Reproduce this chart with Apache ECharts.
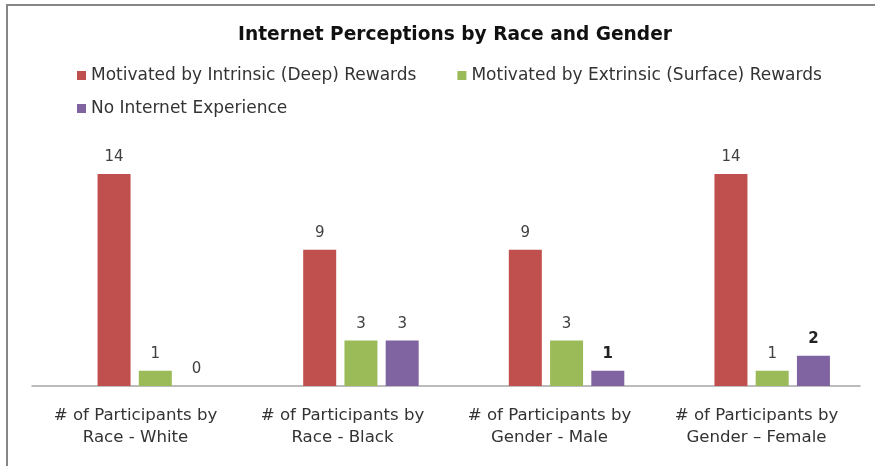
<!DOCTYPE html>
<html>
<head>
<meta charset="utf-8">
<script src="https://cdn.jsdelivr.net/npm/echarts@6/dist/echarts.min.js"></script>
<style>
  html, body { margin: 0; padding: 0; background: #fff; }
  #chart { width: 875px; height: 466px; }
</style>
</head>
<body>
<div id="chart"></div>
<script>
// Group labels along the horizontal axis
const categories = [
  '# of Participants by\nRace - White',
  '# of Participants by\nRace - Black',
  '# of Participants by\nGender - Male',
  '# of Participants by\nGender \u2013 Female'
];

// Series names
const seriesNames = [
  'Motivated by Intrinsic (Deep) Rewards',
  'Motivated by Extrinsic (Surface) Rewards',
  'No Internet Experience'
];

// Counts per group
const intrinsicValues = [14, 9, 9, 14];
const extrinsicValues = [1, 3, 3, 1];
const noInternetValues = [0, 3, 1, 2];

const colors = ['#C0504D', '#9BBB59', '#8064A2'];
const FONT = 'DejaVu Sans';

const chart = echarts.init(document.getElementById('chart'));

function makeBar(name, values, color, boldIdx) {
  return {
    name: name,
    type: 'bar',
    xAxisIndex: 1,
    yAxisIndex: 1,
    barWidth: 33,
    barGap: '25%',
    itemStyle: { color: color },
    label: {
      show: true,
      position: 'top',
      distance: 9,
      fontFamily: FONT,
      fontSize: 15,
      color: '#404040'
    },
    data: values.map((v, i) => boldIdx.indexOf(i) >= 0
      ? { value: v, label: { fontWeight: 'bold', color: '#222' } }
      : v)
  };
}

chart.setOption({
  backgroundColor: '#ffffff',
  animation: false,
  title: {
    text: 'Internet Perceptions by Race and Gender',
    left: 450,
    textAlign: 'center',
    top: 21,
    textStyle: { fontFamily: FONT, fontSize: 18.6, fontWeight: 'bold', color: '#111' }
  },
  legend: [
    {
      data: [seriesNames[0], seriesNames[1]],
      left: 72,
      top: 62,
      itemWidth: 9,
      itemHeight: 9,
      itemGap: 41,
      icon: 'rect',
      textStyle: { fontFamily: FONT, fontSize: 17, color: '#333' }
    },
    {
      data: [seriesNames[2]],
      left: 72,
      top: 95,
      itemWidth: 9,
      itemHeight: 9,
      icon: 'rect',
      textStyle: { fontFamily: FONT, fontSize: 17, color: '#333' }
    }
  ],
  graphic: [{
    type: 'rect',
    shape: { x: 7, y: 5, width: 900, height: 500 },
    style: { fill: 'none', stroke: '#868686', lineWidth: 2 },
    silent: true,
    z: -1
  }],
  grid: [
    { left: 32, width: 828, top: 83, bottom: 80 },
    { left: 52.5, width: 828, top: 83, bottom: 80 }
  ],
  xAxis: [
    {
      type: 'category',
      gridIndex: 0,
      data: categories,
      axisLine: { lineStyle: { color: '#A6A6A6', width: 1.5 } },
      axisTick: { show: false },
      axisLabel: {
        interval: 0,
        margin: 19,
        fontFamily: FONT,
        fontSize: 16.6,
        lineHeight: 22,
        color: '#333'
      }
    },
    {
      type: 'category',
      gridIndex: 1,
      data: categories,
      show: false
    }
  ],
  yAxis: [
    { type: 'value', gridIndex: 0, min: 0, max: 20, show: false },
    { type: 'value', gridIndex: 1, min: 0, max: 20, show: false }
  ],
  series: [
    makeBar(seriesNames[0], intrinsicValues, colors[0], []),
    makeBar(seriesNames[1], extrinsicValues, colors[1], []),
    makeBar(seriesNames[2], noInternetValues, colors[2], [2, 3])
  ]
});
</script>
</body>
</html>
